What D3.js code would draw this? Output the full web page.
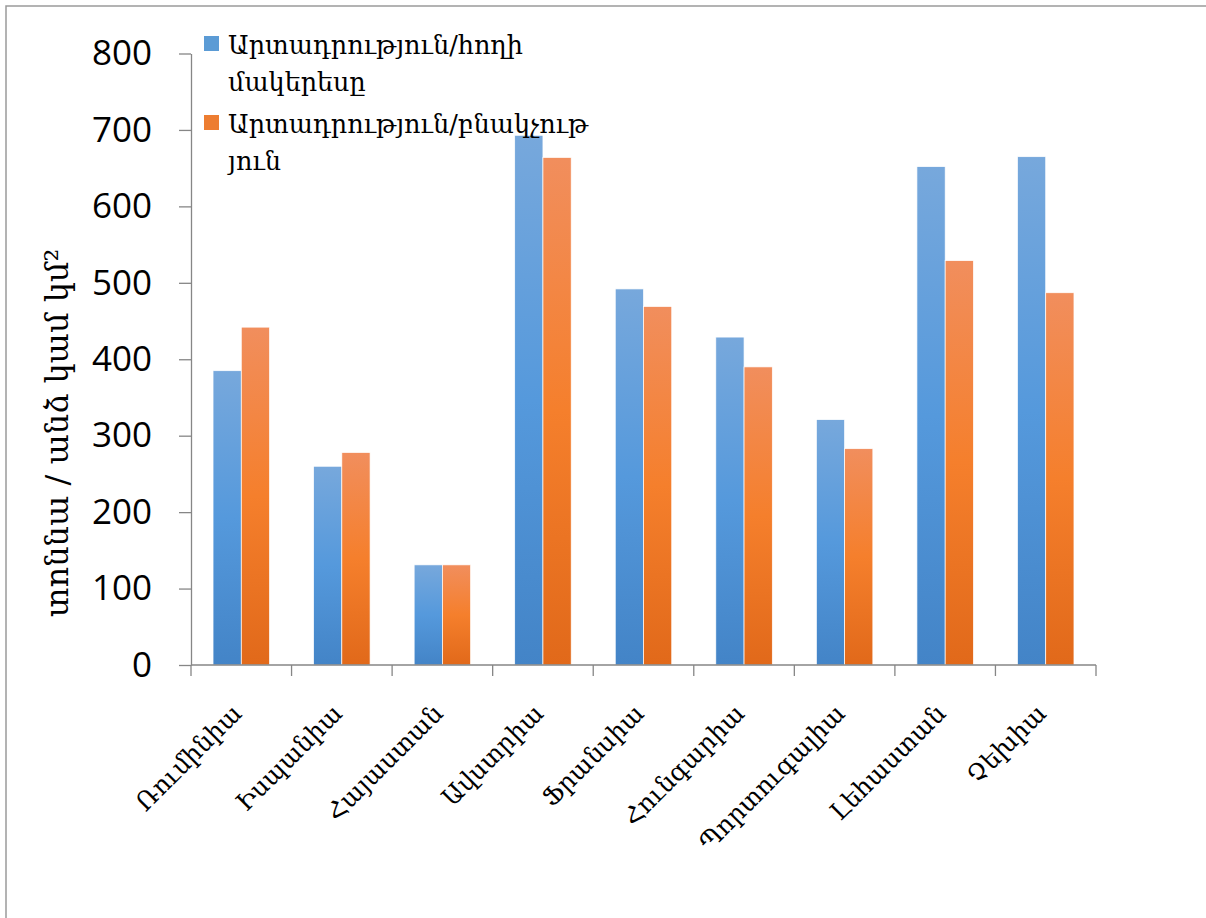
<!DOCTYPE html>
<html>
<head>
<meta charset="utf-8">
<script src="https://cdn.jsdelivr.net/npm/d3@7/dist/d3.min.js"></script>
<style>
	body { margin: 0; background: #fff; }
	svg { display: block; }
	.arm { font-family: "DejaVu Serif", serif; }
	.num { font-family: "Open Sans", sans-serif; }
</style>
</head>
<body>
<svg id="chart" width="1206" height="918"></svg>
<script>

var countries = ["Ռումինիա", "Իսպանիա", "Հայաստան", "Ավստրիա", "Ֆրանսիա", "Հունգարիա", "Պորտուգալիա", "Լեհաստան", "Չեխիա"];
var perLand = [385, 260, 131, 693, 492, 429, 321, 652, 665];
var perPeople = [442, 278, 131, 664, 469, 390, 283, 529, 487];
var seriesNames = [["Արտադրություն/հողի", "մակերեսը"], ["Արտադրություն/բնակչութ", "յուն"]];
var yTicks = [0, 100, 200, 300, 400, 500, 600, 700, 800];
var yTitle = "տոննա / անձ կամ կմ²";

var svg = d3.select("#chart");

var plot = { left: 191, right: 1096, top: 53.5, bottom: 665 };
var axisColor = "#868686";

// frame (only left and top edges show in the original)
svg.append("path")
	.attr("d", "M6,918 L6,6 L1206,6")
	.attr("fill", "none")
	.attr("stroke", "#9a9a9a")
	.attr("stroke-width", 1.5);

var x = d3.scaleBand()
	.domain(countries)
	.range([plot.left, plot.right])
	.paddingInner(0)
	.paddingOuter(0);

var xSub = d3.scaleBand()
	.domain([0, 1])
	.range([0, x.bandwidth()])
	.paddingInner(0)
	.paddingOuter(0.78);

var y = d3.scaleLinear()
	.domain([0, 800])
	.range([plot.bottom, plot.top]);

// gradients like the office fill
var defs = svg.append("defs");
var gradStops = [
	["#77a8dc", "#5599dc", "#4384c7"],
	["#f18e5d", "#f57f2c", "#e1691a"]
];
gradStops.forEach(function(stops, i)
{
	var g = defs.append("linearGradient")
		.attr("id", "grad" + i)
		.attr("x1", 0).attr("y1", 0)
		.attr("x2", 0).attr("y2", 1);
	g.append("stop").attr("offset", "0%").attr("stop-color", stops[0]);
	g.append("stop").attr("offset", "50%").attr("stop-color", stops[1]);
	g.append("stop").attr("offset", "100%").attr("stop-color", stops[2]);
});

// y axis
var yAxis = d3.axisLeft(y)
	.tickValues(yTicks)
	.tickSize(12)
	.tickSizeOuter(0)
	.tickPadding(27);

var yG = svg.append("g")
	.attr("transform", "translate(" + plot.left + ",0)")
	.call(yAxis);

yG.select(".domain").attr("stroke", axisColor).attr("stroke-width", 1.3);
yG.selectAll(".tick line").attr("stroke", axisColor).attr("stroke-width", 1.3);
yG.selectAll(".tick text")
	.attr("class", "num")
	.attr("font-size", 35)
	.attr("fill", "#000");

// bars
var series = [perLand, perPeople];
series.forEach(function(vals, si)
{
	svg.append("g")
		.selectAll("rect")
		.data(vals)
		.enter()
		.append("rect")
		.attr("x", function(d, i) { return x(countries[i]) + xSub(si) })
		.attr("y", function(d) { return y(d) })
		.attr("width", xSub.bandwidth())
		.attr("height", function(d) { return plot.bottom - y(d) })
		.attr("fill", "url(#grad" + si + ")")
		.attr("stroke", "#fff")
		.attr("stroke-width", 0.7);
});

// x axis: ticks on the band edges
var edges = countries.map(function(c) { return x(c) }).concat([plot.right]);
var xG = svg.append("g");
xG.append("line")
	.attr("x1", plot.left).attr("x2", plot.right)
	.attr("y1", plot.bottom).attr("y2", plot.bottom)
	.attr("stroke", axisColor).attr("stroke-width", 1.3);
xG.selectAll(".xt")
	.data(edges)
	.enter()
	.append("line")
	.attr("class", "xt")
	.attr("x1", function(d) { return d }).attr("x2", function(d) { return d })
	.attr("y1", plot.bottom).attr("y2", plot.bottom + 11)
	.attr("stroke", axisColor).attr("stroke-width", 1.3);

xG.selectAll(".xl")
	.data(countries)
	.enter()
	.append("text")
	.attr("class", "arm xl")
	.attr("font-size", 25)
	.attr("text-anchor", "end")
	.attr("transform", function(d)
	{
		var cx = x(d) + x.bandwidth() / 2 + 2;
		return "translate(" + cx + "," + (plot.bottom + 50) + ") rotate(-45)";
	})
	.text(function(d) { return d });

// y title
svg.append("text")
	.attr("class", "arm")
	.attr("font-size", 32)
	.attr("text-anchor", "middle")
	.attr("transform", "translate(68,433) rotate(-90)")
	.text(yTitle);

// legend
var legColors = ["#5b9bd5", "#ed7d31"];
var legTop = [36, 115];
seriesNames.forEach(function(lines, i)
{
	var lg = svg.append("g");
	lg.append("rect")
		.attr("x", 204).attr("y", legTop[i])
		.attr("width", 15).attr("height", 15)
		.attr("fill", legColors[i]);
	var t = lg.append("text")
		.attr("class", "arm")
		.attr("font-size", 25.5)
		.attr("fill", "#000");
	lines.forEach(function(line, j)
	{
		t.append("tspan")
			.attr("x", 228)
			.attr("y", legTop[i] + 18 + j * 37)
			.text(line);
	});
});

</script>
</body>
</html>
